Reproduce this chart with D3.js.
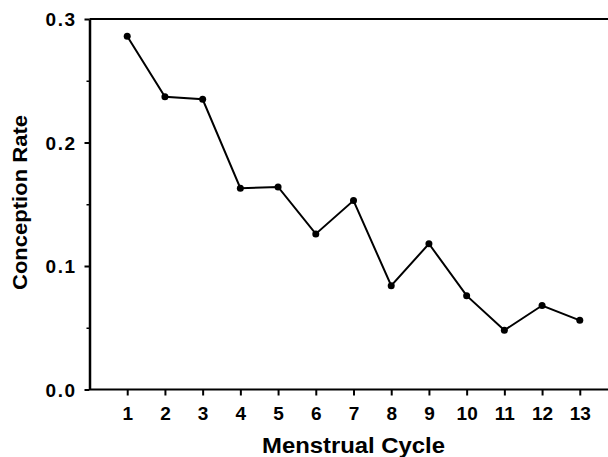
<!DOCTYPE html>
<html>
<head>
<meta charset="utf-8">
<script src="https://cdn.jsdelivr.net/npm/d3@7"></script>
<style>
  body { margin: 0; background: #fff; }
  text { font-family: "Liberation Sans", Arial, Helvetica, sans-serif; fill: #000; }
</style>
</head>
<body>
<svg width="608" height="457"></svg>
<script>
var svg = d3.select("svg");

// data
var cycles = [1, 2, 3, 4, 5, 6, 7, 8, 9, 10, 11, 12, 13];
var rates = [0.286, 0.237, 0.235, 0.163, 0.164, 0.126, 0.153, 0.084, 0.118, 0.076, 0.048, 0.068, 0.056];
var yTicks = [0, 0.1, 0.2, 0.3];
var yMinor = [0.05, 0.15, 0.25];

var plotLeft = 89.5, plotRight = 617.5, plotTop = 19, plotBottom = 389.5;

var x = d3.scaleLinear().domain([0, 14]).range([plotLeft, plotRight]);
var y = d3.scaleLinear().domain([0, 0.3]).range([plotBottom, plotTop]);

// frame (right side falls off the picture)
svg.append("line").attr("x1", plotLeft).attr("x2", 620).attr("y1", plotTop).attr("y2", plotTop)
  .attr("stroke", "#000").attr("stroke-width", 2);

var yAxis = d3.axisLeft(y).tickValues(yTicks).tickFormat(d3.format(".1f"))
  .tickSize(5).tickPadding(8).tickSizeOuter(0);
var gy = svg.append("g").attr("transform", "translate(" + plotLeft + ",0)").call(yAxis);
gy.select(".domain").attr("stroke-width", 2.5);
gy.selectAll(".tick line").attr("stroke-width", 2);
gy.selectAll(".tick text").attr("font-size", 19).attr("font-weight", "bold")
  .attr("letter-spacing", 1.5)
  .attr("font-family", "Liberation Sans, Arial, sans-serif").attr("dy", "0.36em");

var yAxisMinor = d3.axisLeft(y).tickValues(yMinor).tickFormat("").tickSize(3);
var gym = svg.append("g").attr("transform", "translate(" + plotLeft + ",0)").call(yAxisMinor);
gym.select(".domain").remove();
gym.selectAll(".tick line").attr("stroke-width", 1.5);

var xAxis = d3.axisBottom(x).tickValues(cycles).tickFormat(d3.format("d"))
  .tickSize(6).tickPadding(11).tickSizeOuter(0);
var gx = svg.append("g").attr("transform", "translate(0," + plotBottom + ")").call(xAxis);
gx.select(".domain").attr("d", "M" + plotLeft + ",0H620").attr("stroke-width", 2);
gx.selectAll(".tick line").attr("stroke-width", 2);
gx.selectAll(".tick text").attr("font-size", 19).attr("font-weight", "bold")
  .attr("font-family", "Liberation Sans, Arial, sans-serif");

// line and points
var line = d3.line()
  .x(function(d, i) { return x(cycles[i]); })
  .y(function(d) { return y(d); });

svg.append("path").datum(rates)
  .attr("d", line)
  .attr("fill", "none")
  .attr("stroke", "#000")
  .attr("stroke-width", 2);

svg.selectAll(".pt").data(rates).enter().append("circle")
  .attr("class", "pt")
  .attr("cx", function(d, i) { return x(cycles[i]); })
  .attr("cy", function(d) { return y(d); })
  .attr("r", 3.5)
  .attr("fill", "#000");

// axis titles
svg.append("text")
  .attr("x", (plotLeft + plotRight) / 2).attr("y", 453)
  .attr("text-anchor", "middle")
  .attr("font-size", 22).attr("font-weight", "bold")
  .attr("textLength", 183).attr("lengthAdjust", "spacingAndGlyphs")
  .text("Menstrual Cycle");

svg.append("text")
  .attr("transform", "translate(27,202.5) rotate(-90)")
  .attr("text-anchor", "middle")
  .attr("font-size", 21).attr("font-weight", "bold")
  .attr("textLength", 175).attr("lengthAdjust", "spacingAndGlyphs")
  .text("Conception Rate");
</script>
</body>
</html>
